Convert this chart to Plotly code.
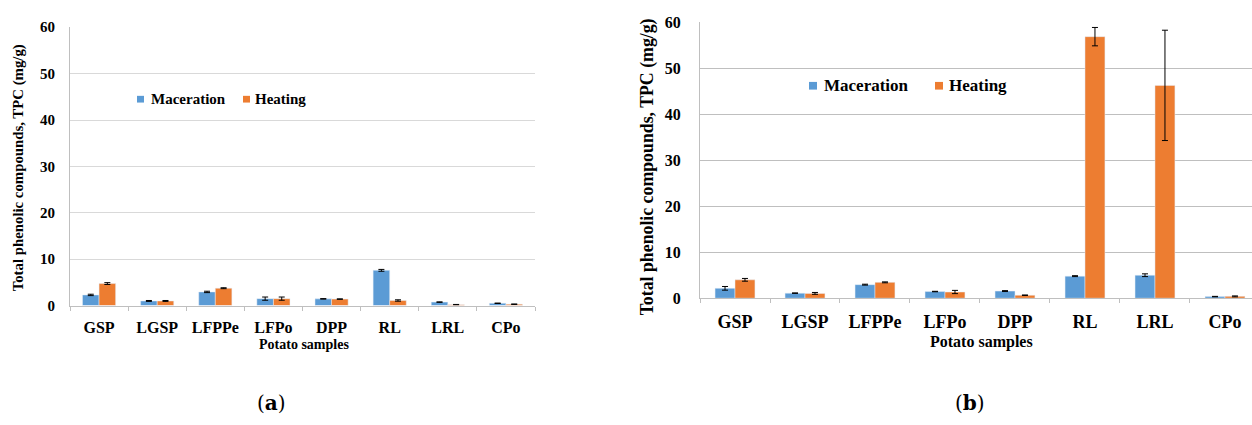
import plotly.graph_objects as go

# Potato sample categories
samples = ["GSP", "LGSP", "LFPPe", "LFPo", "DPP", "RL", "LRL", "CPo"]

# Panel (a): total phenolic compounds, mg/g
a_maceration = [2.3, 1.0, 2.95, 1.5, 1.45, 7.6, 0.75, 0.5]
a_maceration_err = [0.15, 0.1, 0.15, 0.35, 0.05, 0.2, 0.05, 0.05]
a_heating = [4.75, 1.0, 3.75, 1.5, 1.4, 1.1, 0.2, 0.3]
a_heating_err = [0.2, 0.1, 0.1, 0.35, 0.05, 0.15, 0.05, 0.05]

# Panel (b): total phenolic compounds, mg/g
b_maceration = [2.15, 1.1, 2.95, 1.45, 1.55, 4.8, 5.0, 0.35]
b_maceration_err = [0.4, 0.05, 0.1, 0.05, 0.1, 0.1, 0.3, 0.05]
b_heating = [4.0, 1.05, 3.45, 1.35, 0.65, 56.9, 46.3, 0.4]
b_heating_err = [0.3, 0.2, 0.1, 0.35, 0.05, 2.0, 12.0, 0.1]

y_ticks = [0, 10, 20, 30, 40, 50, 60]
series_names = ["Maceration", "Heating"]

BLUE = "#5B9BD5"
ORANGE = "#ED7D31"
SERIF = "Liberation Serif"

W, H = 1252, 425


def px_x(x):
    return x / W


def px_y(y):
    return (H - y) / H


fig = go.Figure()

err_style = dict(type="data", color="black", thickness=1, width=3, visible=True)

fig.add_trace(go.Bar(x=samples, y=a_maceration, name=series_names[0], marker_color=BLUE,
                     error_y=dict(array=a_maceration_err, **err_style),
                     xaxis="x", yaxis="y"))
fig.add_trace(go.Bar(x=samples, y=a_heating, name=series_names[1], marker_color=ORANGE,
                     error_y=dict(array=a_heating_err, **err_style),
                     xaxis="x", yaxis="y"))
fig.add_trace(go.Bar(x=samples, y=b_maceration, name=series_names[0], marker_color=BLUE,
                     error_y=dict(array=b_maceration_err, **err_style),
                     xaxis="x2", yaxis="y2"))
fig.add_trace(go.Bar(x=samples, y=b_heating, name=series_names[1], marker_color=ORANGE,
                     error_y=dict(array=b_heating_err, **err_style),
                     xaxis="x2", yaxis="y2"))

xcommon = dict(type="category", showgrid=False, showline=True, linecolor="#bfbfbf",
               linewidth=1, ticks="outside", tickson="boundaries", ticklen=4,
               tickcolor="#bfbfbf", zeroline=False, fixedrange=True)
ycommon = dict(range=[0, 60], tickvals=y_ticks, showline=True, linecolor="#bfbfbf",
               linewidth=1, ticks="", zeroline=False, showgrid=True, fixedrange=True)


def bold(size):
    return dict(family=SERIF, size=size, color="black", weight="bold")


fig.update_layout(
    width=W, height=H,
    margin=dict(l=0, r=0, t=0, b=0),
    paper_bgcolor="white", plot_bgcolor="white",
    barmode="group", bargap=0.43, bargroupgap=0.0,
    showlegend=False,
    xaxis=dict(domain=[px_x(70), px_x(535)], anchor="y", range=[-0.5, 7.5],
               ticklabelstandoff=7, tickfont=bold(16), **xcommon),
    yaxis=dict(domain=[px_y(310), px_y(20)], anchor="x", gridcolor="#d9d9d9",
               ticklabelstandoff=11, tickfont=bold(15), **ycommon),
    xaxis2=dict(domain=[px_x(700), 1.0], anchor="y2", range=[-0.5, 7.386],
                ticklabelstandoff=7, tickfont=bold(18), **xcommon),
    yaxis2=dict(domain=[px_y(302.3), px_y(15)], anchor="x2", gridcolor="#bfbfbf",
                ticklabelstandoff=15, tickfont=bold(16), **ycommon),
)

# Legend keys: a small coloured square followed by the series name
legend_specs = [
    # (square left, square size, text left, y centre, font size, colour, label)
    (137, 7, 149, 95, 15, BLUE, series_names[0]),
    (243, 7, 253, 95, 15, ORANGE, series_names[1]),
    (809, 8, 822, 81, 17, BLUE, series_names[0]),
    (935, 8, 947, 81, 17, ORANGE, series_names[1]),
]
for sx, ss, tx, cy, fs, col, label in legend_specs:
    fig.add_shape(type="rect", xref="paper", yref="paper",
                  x0=px_x(sx), x1=px_x(sx + ss), y0=px_y(cy + ss / 2), y1=px_y(cy - ss / 2),
                  fillcolor=col, line=dict(width=0))
    fig.add_annotation(xref="paper", yref="paper", showarrow=False, text=label,
                       x=px_x(tx), y=px_y(cy), xanchor="left", yanchor="middle",
                       font=bold(fs))

annos = [
    dict(text="Total phenolic compounds, TPC (mg/g)", x=px_x(18), y=px_y(167), textangle=-90,
         font=bold(14.8)),
    dict(text="Total phenolic compounds, TPC (mg/g)", x=px_x(647), y=px_y(166), textangle=-90,
         font=bold(17.8)),
    dict(text="Potato samples", x=px_x(304), y=px_y(350), font=bold(14)),
    dict(text="Potato samples", x=px_x(981), y=px_y(348), font=bold(16)),
    dict(text="(<b>a</b>)", x=px_x(271), y=px_y(411),
         font=dict(family="DejaVu Serif", size=20, color="black")),
    dict(text="(<b>b</b>)", x=px_x(970), y=px_y(411),
         font=dict(family="DejaVu Serif", size=20, color="black")),
]
for a in annos:
    fig.add_annotation(xref="paper", yref="paper", showarrow=False,
                       xanchor="center", yanchor="middle", **a)

fig.write_html("out.html")
